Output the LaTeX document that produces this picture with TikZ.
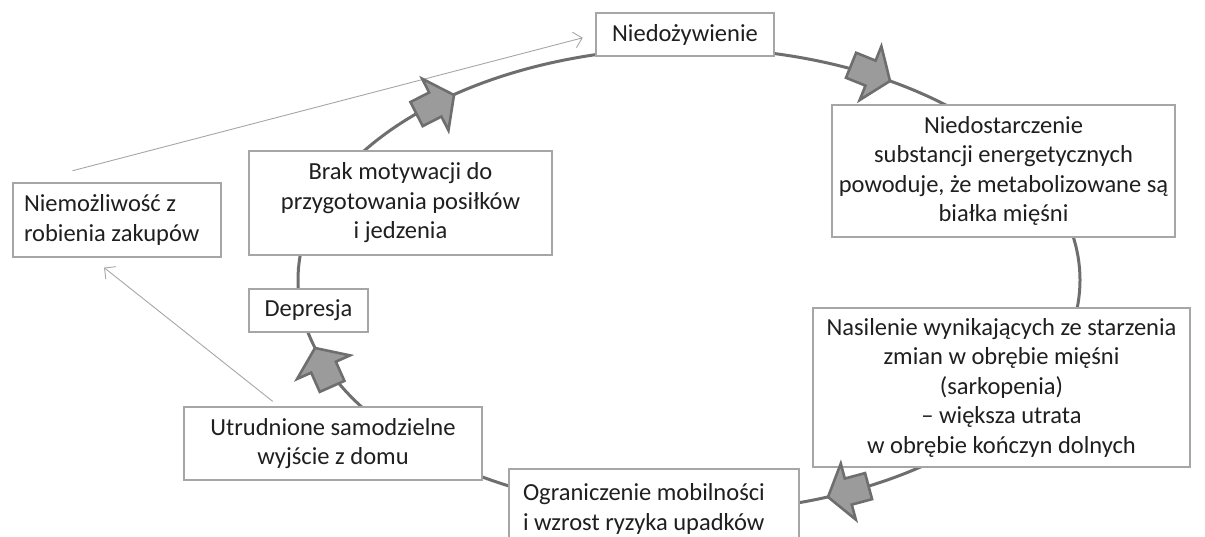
\documentclass[tikz,border=0pt]{standalone}
\usepackage{fontspec}
\setmainfont{Carlito}
\usepackage{tikz}
\usetikzlibrary{arrows.meta}
\definecolor{ringgray}{HTML}{6E6E6E}
\definecolor{boxgray}{HTML}{A6A6A6}
\definecolor{fillgray}{HTML}{9B9B9C}
\newcommand{\cyclearrow}[2]{%
  \draw[bigarrow,shift={(#1)},rotate=#2] (0,0) -- (-21,29) -- (-21,13.5) -- (-42,13.5)
    -- (-42,-13.5) -- (-21,-13.5) -- (-21,-29) -- cycle;}

\begin{document}
\begin{tikzpicture}[
  x=1pt,y=-1pt,
  font=\fontsize{24.5}{29.5}\selectfont,
  stagebox/.style={draw=boxgray,line width=1.3pt,fill=white,align=center,inner sep=0pt,text=black!88},
  ring/.style={draw=ringgray,line width=3pt},
  bigarrow/.style={draw=ringgray,fill=fillgray,line width=2.6pt,line join=miter},
  thinarrow/.style={draw=boxgray,line width=0.9pt,-{Straight Barb[length=8pt,width=16pt]}}
]
\useasboundingbox (0,0) rectangle (1205,536);
\clip (0,0) rectangle (1205,536);

% the cycle
\draw[ring] (689,280) ellipse [x radius=391pt, y radius=232pt];

\node[stagebox,minimum width=178,minimum height=43] (nied) at (685,34.5) {Niedożywienie};
\node[stagebox,minimum width=343,minimum height=132] (niedost) at (1003.5,171)
  {Niedostarczenie\\substancji energetycznych\\powoduje, że metabolizowane są\\białka mięśni};
\node[stagebox,minimum width=377,minimum height=159] (nasil) at (1001.5,387.5)
  {Nasilenie wynikających ze starzenia\\zmian w obrębie mięśni\\(sarkopenia)\\– większa utrata\\w obrębie kończyn dolnych};
\node[stagebox,align=flush left,inner xsep=14pt,text width=262,minimum height=80] (ogran) at (654,509)
  {Ograniczenie mobilności\\i wzrost ryzyka upadków};
\node[stagebox,minimum width=298,minimum height=73] (utrud) at (333,443.5)
  {Utrudnione samodzielne\\wyjście z domu};
\node[stagebox,minimum width=119,minimum height=43] (depr) at (308.5,310.5) {Depresja};
\node[stagebox,minimum width=303,minimum height=104] (brak) at (400.5,203)
  {Brak motywacji do\\przygotowania posiłków\\i jedzenia};
\node[stagebox,align=flush left,inner xsep=11pt,text width=186,minimum height=74] (niemoz) at (117,220)
  {Niemożliwość z\\robienia zakupów};

\draw[thinarrow,shorten <=8pt,shorten >=16pt] ([xshift=-54pt]utrud.north) -- ([xshift=-25.5pt]niemoz.south);
\draw[thinarrow,shorten <=46pt,shorten >=13pt] ([xshift=-89pt]niemoz.north) -- (nied.west);

\cyclearrow{454,95}{27}
\cyclearrow{890,81}{-22}
\cyclearrow{828,497}{195}
\cyclearrow{315,348}{114}
\end{tikzpicture}
\end{document}
